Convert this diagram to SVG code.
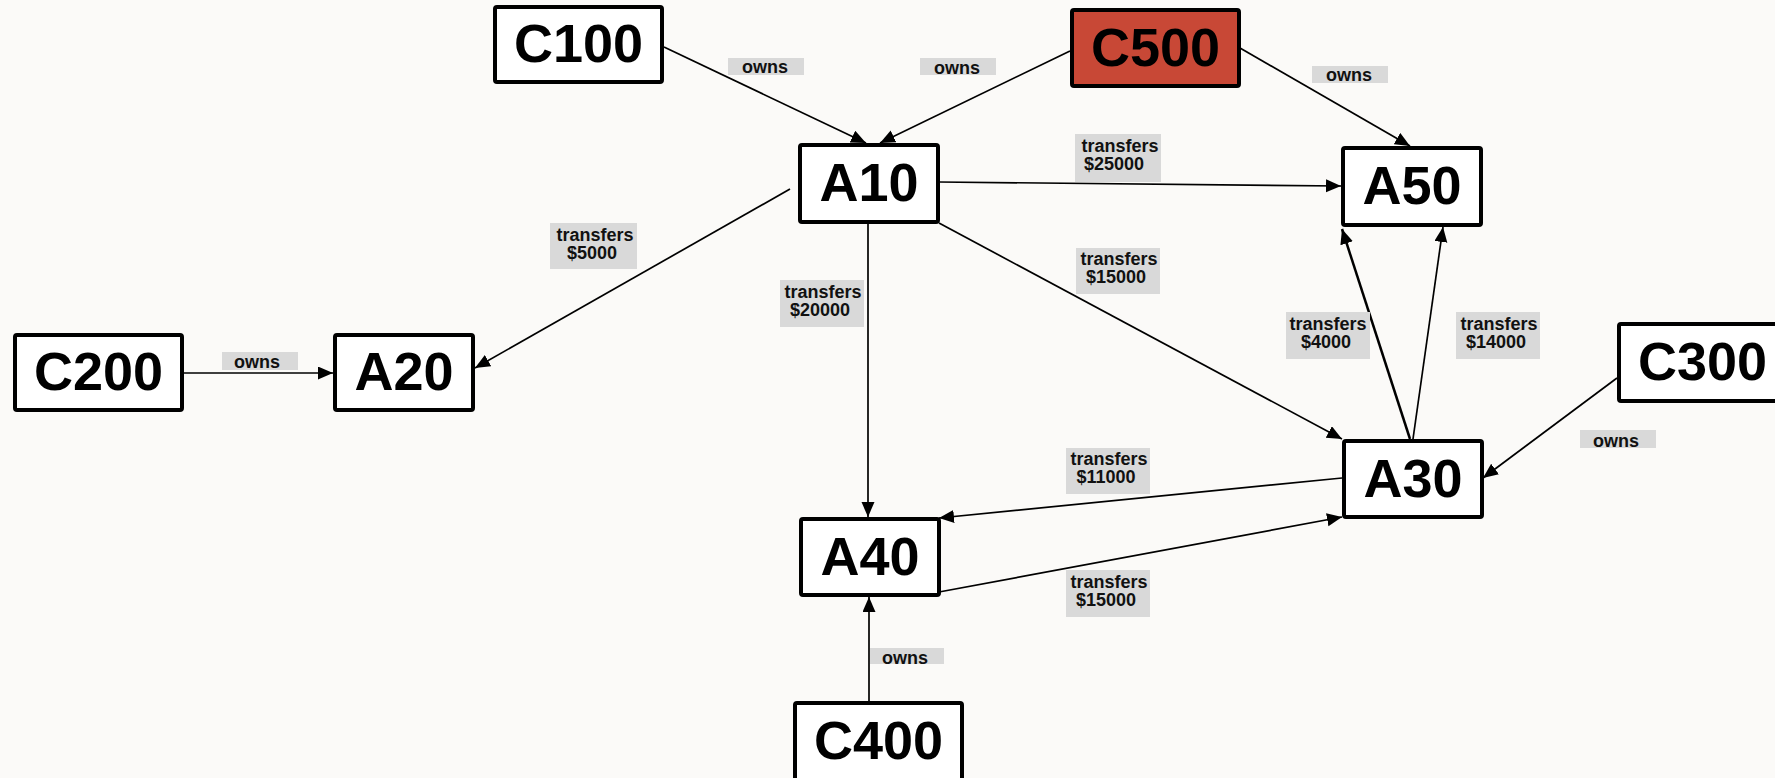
<svg xmlns="http://www.w3.org/2000/svg" width="1775" height="778" viewBox="0 0 1775 778">
<style>
.bg{fill:#FBFAF8}
.box{fill:#FFFFFF;stroke:#000;stroke-width:4}
.red{fill:#C84836}
.nt{font-family:"Liberation Sans",Arial,sans-serif;font-weight:bold;font-size:54px;text-anchor:middle;fill:#000}
.e{stroke:#000;stroke-width:1.7;fill:none;marker-end:url(#ah)}
.lb{fill:#D9D9D9}
.lt{font-family:"Liberation Sans",Arial,sans-serif;font-weight:bold;font-size:18px;text-anchor:middle;fill:#111}
</style>
<defs>
<marker id="ah" markerUnits="userSpaceOnUse" markerWidth="16" markerHeight="14" refX="15" refY="6.5" orient="auto">
<path d="M0,0 L15,6.5 L0,13 z" fill="#000"/>
</marker>
</defs>
<rect class="bg" x="0" y="0" width="1775" height="778"/>
<g id="connectors">
<line class="e" x1="664" y1="47" x2="866" y2="143"/>
<line class="e" x1="1070" y1="51" x2="880" y2="143"/>
<line class="e" x1="1240" y1="48" x2="1410" y2="146"/>
<line class="e" x1="939" y1="182" x2="1341" y2="186"/>
<line class="e" x1="790" y1="189" x2="475" y2="368"/>
<line class="e" x1="868" y1="224" x2="868" y2="517"/>
<line class="e" x1="939" y1="223" x2="1342" y2="439"/>
<line class="e" x1="1342" y1="478" x2="939" y2="518"/>
<line class="e" x1="939" y1="592" x2="1342" y2="517"/>
<line class="e" x1="1410" y1="439" x2="1342" y2="229" style="stroke-width:2.5"/>
<line class="e" x1="1413" y1="439" x2="1443" y2="227"/>
<line class="e" x1="1617" y1="378" x2="1483" y2="478"/>
<line class="e" x1="869" y1="701" x2="869" y2="597"/>
<line class="e" x1="184" y1="373" x2="333" y2="373"/>
<g id="labels">
<rect class="lb" x="728" y="58" width="76" height="17"/><text class="lt" x="765" y="73">owns</text>
<rect class="lb" x="920" y="58" width="76" height="17"/><text class="lt" x="957" y="74">owns</text>
<rect class="lb" x="1312" y="66" width="76" height="17"/><text class="lt" x="1349" y="81">owns</text>
<rect class="lb" x="222" y="352" width="76" height="18"/><text class="lt" x="257" y="368">owns</text>
<rect class="lb" x="1580" y="430" width="76" height="18"/><text class="lt" x="1616" y="447">owns</text>
<rect class="lb" x="870" y="648" width="74" height="16"/><text class="lt" x="905" y="664">owns</text>
<rect class="lb" x="1075" y="134" width="86" height="48"/><text class="lt" x="1120" y="152">transfers</text><text class="lt" x="1114" y="170">$25000</text>
<rect class="lb" x="550" y="223" width="87" height="46"/><text class="lt" x="595" y="241">transfers</text><text class="lt" x="592" y="259">$5000</text>
<rect class="lb" x="780" y="280" width="84" height="47"/><text class="lt" x="823" y="298">transfers</text><text class="lt" x="820" y="316">$20000</text>
<rect class="lb" x="1076" y="248" width="84" height="46"/><text class="lt" x="1119" y="265">transfers</text><text class="lt" x="1116" y="283">$15000</text>
<rect class="lb" x="1066" y="448" width="84" height="46"/><text class="lt" x="1109" y="465">transfers</text><text class="lt" x="1106" y="483">$11000</text>
<rect class="lb" x="1066" y="570" width="84" height="47"/><text class="lt" x="1109" y="588">transfers</text><text class="lt" x="1106" y="606">$15000</text>
<rect class="lb" x="1286" y="312" width="84" height="47"/><text class="lt" x="1328" y="330">transfers</text><text class="lt" x="1326" y="348">$4000</text>
<rect class="lb" x="1456" y="312" width="84" height="47"/><text class="lt" x="1499" y="330">transfers</text><text class="lt" x="1496" y="348">$14000</text>
</g>
</g>
<g id="C100"><rect class="box" x="495" y="7" width="167" height="75" rx="2"/><text class="nt" x="578.5" y="62">C100</text></g>
<g id="C500"><rect class="box red" x="1072" y="10" width="167" height="76" rx="2"/><text class="nt" x="1155.5" y="66">C500</text></g>
<g id="A10"><rect class="box" x="800" y="145" width="138" height="77" rx="2"/><text class="nt" x="869" y="201">A10</text></g>
<g id="A50"><rect class="box" x="1343" y="148" width="138" height="77" rx="2"/><text class="nt" x="1412" y="204">A50</text></g>
<g id="C200"><rect class="box" x="15" y="335" width="167" height="75" rx="2"/><text class="nt" x="98.5" y="390">C200</text></g>
<g id="A20"><rect class="box" x="335" y="335" width="138" height="75" rx="2"/><text class="nt" x="404" y="390">A20</text></g>
<g id="C300"><rect class="box" x="1619" y="324" width="167" height="77" rx="2"/><text class="nt" x="1702.5" y="380">C300</text></g>
<g id="A30"><rect class="box" x="1344" y="441" width="138" height="76" rx="2"/><text class="nt" x="1413" y="497">A30</text></g>
<g id="A40"><rect class="box" x="801" y="519" width="138" height="76" rx="2"/><text class="nt" x="870" y="575">A40</text></g>
<g id="C400"><rect class="box" x="795" y="703" width="167" height="80" rx="2"/><text class="nt" x="878.5" y="759">C400</text></g>
</svg>
